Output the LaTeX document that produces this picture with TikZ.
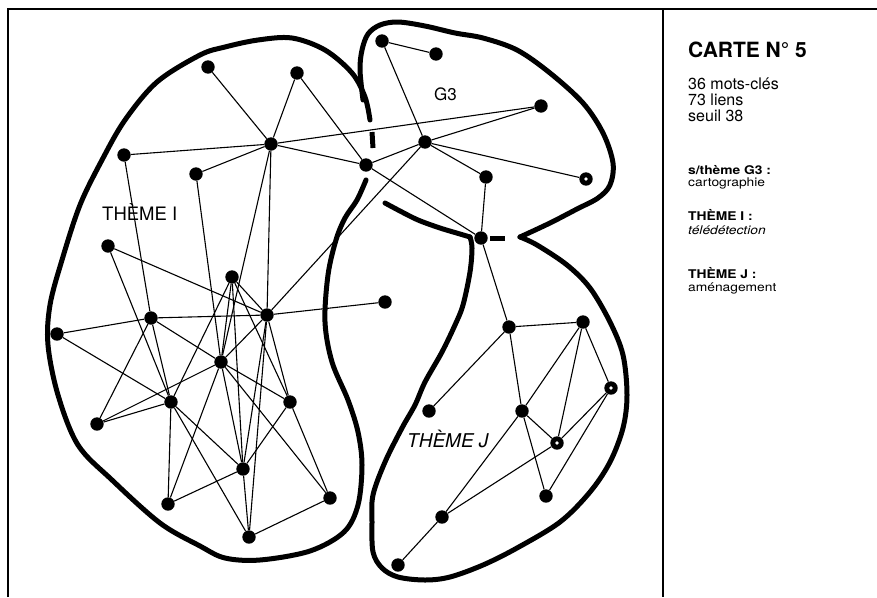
\documentclass[tikz,border=0pt]{standalone}
\usepackage{fontspec}
\setmainfont{TeX Gyre Heros}
\newfontfamily\panelfont[FakeStretch=1.15]{TeX Gyre Heros}
\begin{document}
\begin{tikzpicture}[x=1pt,y=-1pt,
  dot/.style={circle, fill=black, inner sep=0pt, minimum size=13.4pt},
  link/.style={line width=1.1pt},
  hull/.style={line width=5pt, line cap=round, line join=round},
  frame/.style={line width=1.6pt},
  label/.style={anchor=base west, inner sep=0pt}]
\useasboundingbox (0,0) rectangle (877,597);

% frame and side panel divider
\draw[frame] (8,597) -- (8,9) -- (877,9);
\draw[frame] (663,9) -- (663,597);

% theme I keywords
\node[dot] (i1) at (208,67) {};
\node[dot] (i2) at (297,73) {};
\node[dot] (i3) at (124,155) {};
\node[dot] (i4) at (196,174) {};
\node[dot] (i5) at (271,144) {};
\node[dot] (i6) at (366,165) {};
\node[dot] (i7) at (108,246) {};
\node[dot] (i8) at (232,277) {};
\node[dot] (i9) at (151,318) {};
\node[dot] (i10) at (57,334) {};
\node[dot] (i11) at (267,315) {};
\node[dot] (i12) at (385,302) {};
\node[dot] (i13) at (221,362) {};
\node[dot] (i14) at (171,402) {};
\node[dot] (i15) at (290,402) {};
\node[dot] (i16) at (97,424) {};
\node[dot] (i17) at (243,469) {};
\node[dot] (i18) at (168,504) {};
\node[dot] (i19) at (330,498) {};
\node[dot] (i20) at (249,537) {};
% sub-theme G3 keywords
\node[dot] (g1) at (382,41) {};
\node[dot] (g2) at (436,54) {};
\node[dot] (g3) at (425,142) {};
\node[dot] (g4) at (541,106) {};
\node[dot] (g5) at (486,177) {};
\node[dot] (g6) at (586,179) {};
\node[dot] (g7) at (481,238) {};
% theme J keywords
\node[dot] (j1) at (509,327) {};
\node[dot] (j2) at (583,322) {};
\node[dot] (j3) at (429,411) {};
\node[dot] (j4) at (522,411) {};
\node[dot] (j5) at (557,443) {};
\node[dot] (j6) at (611,388) {};
\node[dot] (j7) at (546,496) {};
\node[dot] (j8) at (442,517) {};
\node[dot] (j9) at (398,565) {};

% links
\foreach \a/\b in {i1/i5, i2/i5, i2/i6, i3/i5, i4/i5, i5/i6, i3/i9, i4/i13,
  i5/i11, i5/i13, i7/i11, i7/i14, i9/i11, i10/i9, i10/i14, i9/i13, i9/i16,
  i9/i14, i8/i11, i8/i15, i8/i14, i8/i13, i8/i17, i11/i12, i11/i13, i11/i15,
  i11/i17, i11/i20, i13/i16, i13/i18, i13/i17, i13/i15, i13/i19, i14/i16,
  i14/i18, i14/i17, i14/i20, i17/i18, i17/i15, i17/i20, i15/i19, i19/i20,
  g1/g2, g1/g3, g3/g4, i5/g4, g3/g5, g3/g6, g5/g7, i6/g3, i6/g7, g3/i11,
  g7/j1, j1/j2, j1/j3, j1/j4, j2/j6, j2/j4, j2/j5, j4/j5, j4/j7, j4/j8,
  j5/j6, j5/j8, j7/j6, j8/j9}
  \draw[link] (\a) -- (\b);

% keywords drawn as rings
\foreach \r in {g6, j5, j6}
  \fill[white] (\r) circle (1.9);

% theme I outline
\draw[hull] plot[smooth, tension=0.55] coordinates {
  (366,180) (357,200) (345,218) (336,240) (328,275) (325,322) (332,362)
  (348,400) (358,432) (362,465) (358,505) (344,532) (310,551) (260,560)
  (225,558) (200,546) (160,523) (112,480) (78,445) (58,395) (48,345)
  (50,305) (62,260) (80,205) (102,160) (125,120) (157,82) (200,55)
  (225,47) (258,40) (292,38) (325,50) (352,73) (365,97) (370,120)};
\draw[hull, line cap=butt] (372,132) -- (373,148);

% sub-theme G3 outline
\draw[hull] plot[smooth, tension=0.55] coordinates {
  (363,100) (360,70) (362,50) (368,34) (380,25) (398,22) (425,26)
  (455,33) (483,38) (517,50) (550,73) (583,103) (603,133) (613,163)
  (610,185) (598,198) (577,209) (550,223) (520,237)};

% theme J outline
\draw[hull] plot[smooth, tension=0.55] coordinates {
  (520,237) (537,245) (567,265) (590,288) (610,322) (623,355) (627,395)
  (623,428) (610,462) (590,492) (560,522) (517,548) (483,565) (450,577)
  (425,580) (398,577) (382,568) (373,552) (372,522) (373,495) (385,462)
  (402,428) (415,405) (425,382) (442,352) (455,325) (463,305) (470,272)
  (472,248) (470,237)};
\draw[hull] plot[smooth, tension=0.55] coordinates {
  (470,237) (460,234) (440,228) (418,220) (400,211) (385,203)};
\draw[hull, line cap=butt] (490,238) -- (505,238);

% theme labels
\node[label, font=\fontsize{17}{17}\selectfont] (lg3) at (434,100) {G3};
\node[label, font=\fontsize{18.5}{18.5}\selectfont] (lti) at (102,220) {THÈME I};
\node[label, font=\fontsize{19}{19}\selectfont\itshape] (ltj) at (407,447) {THÈME J};

% side panel
\node[label, font=\fontsize{21}{21}\selectfont\bfseries] (title) at (688,57) {CARTE N° 5};
\node[label, font=\fontsize{16}{16}\selectfont] (s1) at (688,89) {36 mots-clés};
\node[label, font=\fontsize{16}{16}\selectfont] (s2) at (688,105) {73 liens};
\node[label, font=\fontsize{16}{16}\selectfont] (s3) at (688,121) {seuil 38};
\node[label, font=\panelfont\fontsize{12}{12}\selectfont\bfseries] (h1) at (688,174) {s/thème G3 :};
\node[label, font=\panelfont\fontsize{12}{12}\selectfont] (d1) at (688,186) {cartographie};
\node[label, font=\panelfont\fontsize{12}{12}\selectfont\bfseries] (h2) at (688,220) {THÈME I :};
\node[label, font=\panelfont\fontsize{12}{12}\selectfont\itshape] (d2) at (688,234) {télédétection};
\node[label, font=\panelfont\fontsize{12}{12}\selectfont\bfseries] (h3) at (688,278) {THÈME J :};
\node[label, font=\panelfont\fontsize{12}{12}\selectfont] (d3) at (688,291) {aménagement};
\end{tikzpicture}
\end{document}
